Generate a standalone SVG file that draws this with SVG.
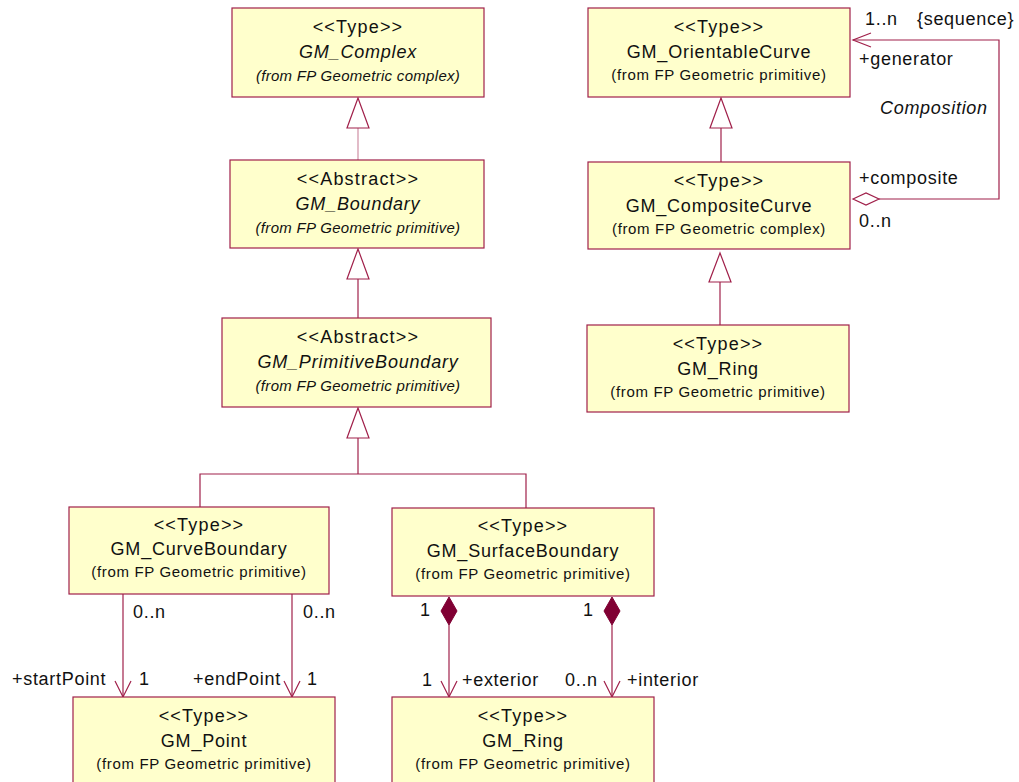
<svg xmlns="http://www.w3.org/2000/svg" width="1019" height="782" viewBox="0 0 1019 782">
<style>
.box{fill:#FFFFCC;stroke:#A0204A;stroke-width:1.2}
.st{font-family:"Liberation Sans",Arial,sans-serif;font-size:18px;letter-spacing:1.2px;fill:#111;text-anchor:middle}
.nm{font-family:"Liberation Sans",Arial,sans-serif;font-size:18px;letter-spacing:0.8px;fill:#111;text-anchor:middle}
.fr{font-family:"Liberation Sans",Arial,sans-serif;font-size:15px;letter-spacing:0.65px;fill:#111;text-anchor:middle}
.it{font-style:italic}
.fi{font-style:italic;letter-spacing:0.3px}
.lb{font-family:"Liberation Sans",Arial,sans-serif;font-size:18px;letter-spacing:0.7px;fill:#111}
.ln{fill:none;stroke:#A0204A;stroke-width:1.2}
.gen{fill:#fff;stroke:#A0204A;stroke-width:1.2}
.dmf{fill:#800033;stroke:#800033;stroke-width:1}
.dmo{fill:#fff;stroke:#A0204A;stroke-width:1.2}
</style>
<rect width="1019" height="782" fill="#fff"/>
<g id="connectors">
<line class="ln" x1="358" y1="128" x2="358" y2="160" stroke-opacity="0.5"/>
<polygon class="gen" points="358,98 347,128 369,128"/>
<line class="ln" x1="358" y1="279" x2="358" y2="318"/>
<polygon class="gen" points="358,249 347,279 369,279"/>
<polyline class="ln" points="200,507 200,474 526,474 526,508"/>
<line class="ln" x1="358" y1="438" x2="358" y2="474"/>
<polygon class="gen" points="358,408 347,438 369,438"/>
<line class="ln" x1="721" y1="128" x2="721" y2="162"/>
<polygon class="gen" points="721,98 710,128 732,128"/>
<line class="ln" x1="720" y1="282" x2="720" y2="325"/>
<polygon class="gen" points="720,253 709,282 731,282"/>
<polyline class="ln" points="853,40 999,40 999,199 879,199"/>
<polyline class="ln" points="871,33 853,40 871,47"/>
<polygon class="dmo" points="853,199 866,193 879,199 866,205"/>
<line class="ln" x1="123" y1="594" x2="123" y2="697"/>
<polyline class="ln" points="115,681 123,697 131,681"/>
<line class="ln" x1="292" y1="594" x2="292" y2="697"/>
<polyline class="ln" points="284,681 292,697 300,681"/>
<line class="ln" x1="449" y1="625" x2="449" y2="697"/>
<polygon class="dmf" points="449,597 441,611 449,625 457,611"/>
<polyline class="ln" points="441,681 449,697 457,681"/>
<line class="ln" x1="612" y1="625" x2="612" y2="697"/>
<polygon class="dmf" points="612,597 604,611 612,625 620,611"/>
<polyline class="ln" points="604,681 612,697 620,681"/>
<text class="lb" x="865" y="25">1..n</text>
<text class="lb" x="917" y="25">{sequence}</text>
<text class="lb" x="859" y="65">+generator</text>
<text class="lb it" x="880" y="114">Composition</text>
<text class="lb" x="859" y="184">+composite</text>
<text class="lb" x="859" y="227">0..n</text>
<text class="lb" x="133" y="618">0..n</text>
<text class="lb" x="303" y="618">0..n</text>
<text class="lb" x="12" y="685">+startPoint</text>
<text class="lb" x="139" y="685">1</text>
<text class="lb" x="193" y="685">+endPoint</text>
<text class="lb" x="307" y="685">1</text>
<text class="lb" x="420" y="616">1</text>
<text class="lb" x="583" y="616">1</text>
<text class="lb" x="422" y="686">1</text>
<text class="lb" x="462" y="686">+exterior</text>
<text class="lb" x="565" y="686">0..n</text>
<text class="lb" x="627" y="686">+interior</text>
</g>
<g id="GM_Complex">
<rect class="box" x="232" y="8" width="252" height="89"/>
<text class="st" x="358" y="33">&lt;&lt;Type&gt;&gt;</text>
<text class="nm it" x="358" y="58">GM_Complex</text>
<text class="fr fi" x="358" y="81">(from FP Geometric complex)</text>
</g>
<g id="GM_Boundary">
<rect class="box" x="230" y="160" width="254" height="88"/>
<text class="st" x="358" y="185">&lt;&lt;Abstract&gt;&gt;</text>
<text class="nm it" x="358" y="210">GM_Boundary</text>
<text class="fr fi" x="358" y="233">(from FP Geometric primitive)</text>
</g>
<g id="GM_PrimitiveBoundary">
<rect class="box" x="222" y="318" width="269" height="89"/>
<text class="st" x="358" y="343">&lt;&lt;Abstract&gt;&gt;</text>
<text class="nm it" x="358" y="368">GM_PrimitiveBoundary</text>
<text class="fr fi" x="358" y="391">(from FP Geometric primitive)</text>
</g>
<g id="GM_OrientableCurve">
<rect class="box" x="588" y="8" width="262" height="89"/>
<text class="st" x="719" y="33">&lt;&lt;Type&gt;&gt;</text>
<text class="nm" x="719" y="58">GM_OrientableCurve</text>
<text class="fr" x="719" y="80">(from FP Geometric primitive)</text>
</g>
<g id="GM_CompositeCurve">
<rect class="box" x="588" y="162" width="262" height="87"/>
<text class="st" x="719" y="187">&lt;&lt;Type&gt;&gt;</text>
<text class="nm" x="719" y="212">GM_CompositeCurve</text>
<text class="fr" x="719" y="234">(from FP Geometric complex)</text>
</g>
<g id="GM_Ring_top">
<rect class="box" x="587" y="325" width="262" height="87"/>
<text class="st" x="718" y="350">&lt;&lt;Type&gt;&gt;</text>
<text class="nm" x="718" y="375">GM_Ring</text>
<text class="fr" x="718" y="397">(from FP Geometric primitive)</text>
</g>
<g id="GM_CurveBoundary">
<rect class="box" x="69" y="507" width="260" height="87"/>
<text class="st" x="199" y="531">&lt;&lt;Type&gt;&gt;</text>
<text class="nm" x="199" y="555">GM_CurveBoundary</text>
<text class="fr" x="199" y="577">(from FP Geometric primitive)</text>
</g>
<g id="GM_SurfaceBoundary">
<rect class="box" x="392" y="508" width="262" height="88"/>
<text class="st" x="523" y="532">&lt;&lt;Type&gt;&gt;</text>
<text class="nm" x="523" y="557">GM_SurfaceBoundary</text>
<text class="fr" x="523" y="579">(from FP Geometric primitive)</text>
</g>
<g id="GM_Point">
<rect class="box" x="73" y="697" width="262" height="90"/>
<text class="st" x="204" y="722">&lt;&lt;Type&gt;&gt;</text>
<text class="nm" x="204" y="747">GM_Point</text>
<text class="fr" x="204" y="769">(from FP Geometric primitive)</text>
</g>
<g id="GM_Ring_bottom">
<rect class="box" x="392" y="697" width="262" height="90"/>
<text class="st" x="523" y="722">&lt;&lt;Type&gt;&gt;</text>
<text class="nm" x="523" y="747">GM_Ring</text>
<text class="fr" x="523" y="769">(from FP Geometric primitive)</text>
</g>
</svg>
